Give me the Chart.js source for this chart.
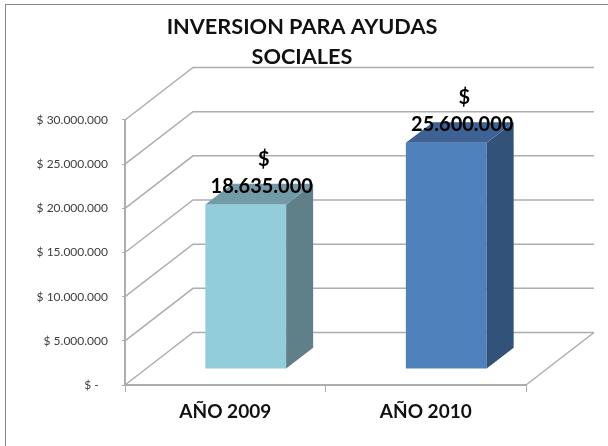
<!DOCTYPE html>
<html>
<head>
<meta charset="utf-8">
<style>
  html, body { margin: 0; padding: 0; background: #fff; overflow: hidden; }
  #wrap { position: relative; width: 608px; height: 446px; }
</style>
</head>
<body>
<div id="wrap"><canvas id="chart"></canvas></div>
<script src="https://cdn.jsdelivr.net/npm/chart.js@4"></script>
<script>
const categories = ["AÑO 2009", "AÑO 2010"];
const inversion = [18635000, 25600000];
const titleLines = ["INVERSION PARA AYUDAS", "SOCIALES"];
const yMax = 30000000;
const yStep = 5000000;

const frontColors = ["#92CDDC", "#4F81BD"];
const sideColors = ["#5F8089", "#325279"];
const topColors = ["#739BA7", "#3D6293"];
const gridColor = "#adadad";
const FONT = "Lato, Carlito, sans-serif";

// 3d look: offsets in pixels
const wallDx = 68, wallDy = 52.5;
const barDx = 20.5, barDy = 16;
const depthDx = 27, depthDy = 20.7;

function money(v) {
  return String(v).replace(/\B(?=(\d{3})+(?!\d))/g, ".");
}

function poly(ctx, pts, fill) {
  ctx.beginPath();
  ctx.moveTo(pts[0][0], pts[0][1]);
  for (let i = 1; i < pts.length; i++) ctx.lineTo(pts[i][0], pts[i][1]);
  ctx.closePath();
  ctx.fillStyle = fill;
  ctx.fill();
}

const fake3d = {
  id: "fake3d",
  beforeDraw(chart) {
    const ctx = chart.ctx;
    ctx.save();
    ctx.strokeStyle = "#868686";
    ctx.lineWidth = 1;
    ctx.strokeRect(5.5, 4.5, 800, 800);
    ctx.restore();
  },
  beforeDatasetsDraw(chart) {
    const ctx = chart.ctx;
    const area = chart.chartArea;
    const y = chart.scales.y;
    ctx.save();
    ctx.strokeStyle = gridColor;
    ctx.lineWidth = 1.5;
    y.ticks.forEach(function (t) {
      const py = y.getPixelForValue(t.value);
      ctx.beginPath();
      ctx.moveTo(area.left, py);
      ctx.lineTo(area.left + wallDx, py - wallDy);
      ctx.lineTo(area.right + wallDx, py - wallDy);
      ctx.stroke();
    });
    // floor edge on the right
    const py0 = y.getPixelForValue(0);
    ctx.beginPath();
    ctx.moveTo(area.right, py0);
    ctx.lineTo(area.right + wallDx, py0 - wallDy);
    ctx.stroke();
    ctx.restore();

    // native bars become the front faces, pushed into the floor
    ctx.save();
    ctx.translate(barDx, -barDy);
  },
  afterDatasetsDraw(chart) {
    const ctx = chart.ctx;
    ctx.restore();
    chart.getDatasetMeta(0).data.forEach(function (el, i) {
      const l = el.x - el.width / 2 + barDx;
      const r = el.x + el.width / 2 + barDx;
      const t = el.y - barDy;
      const b = el.base - barDy;
      poly(ctx, [[r, t], [r + depthDx, t - depthDy], [r + depthDx, b - depthDy], [r, b]], sideColors[i]);
      poly(ctx, [[l, t], [r, t], [r + depthDx, t - depthDy], [l + depthDx, t - depthDy]], topColors[i]);

      ctx.save();
      ctx.fillStyle = "#000";
      ctx.font = "bold 20px " + FONT;
      ctx.textAlign = "center";
      ctx.textBaseline = "middle";
      ctx.fillText("$", el.x + barDx + 18, t - 45);
      ctx.fillText(money(inversion[i]), el.x + barDx + 16, t - 18);
      ctx.restore();
    });
  }
};

new Chart(document.getElementById("chart"), {
  type: "bar",
  data: {
    labels: categories,
    datasets: [{
      data: inversion,
      backgroundColor: frontColors,
      borderWidth: 0,
      barPercentage: 0.403,
      categoryPercentage: 1
    }]
  },
  options: {
    responsive: true,
    maintainAspectRatio: false,
    animation: false,
    layout: { padding: { left: 0, right: 4, top: 0, bottom: 0 } },
    plugins: {
      legend: { display: false },
      tooltip: { enabled: false },
      title: {
        display: true,
        text: titleLines,
        color: "#111",
        font: { family: FONT, size: 21.7, weight: "bold", lineHeight: 1.382 },
        padding: { top: 12, bottom: 48 }
      }
    },
    scales: {
      x: {
        grid: { color: gridColor, drawOnChartArea: false, tickLength: 7, tickWidth: 1 },
        border: { color: gridColor, width: 2 },
        ticks: { color: "#111", padding: 8, maxRotation: 0, font: { family: FONT, size: 19, weight: "bold" } },
        afterFit(scale) { scale.height = 61; }
      },
      y: {
        min: 0,
        max: yMax,
        grid: { color: gridColor, drawOnChartArea: false, tickLength: 3 },
        border: { color: gridColor, width: 2 },
        ticks: {
          stepSize: yStep,
          color: "#404040",
          padding: 14,
          font: { family: FONT, size: 12 },
          callback(v) { return v === 0 ? "$ -   " : "$ " + money(v); }
        },
        afterFit(scale) { scale.width = 125; }
      },
      spacer: {
        position: "right",
        grid: { display: false },
        border: { display: false },
        ticks: { display: false },
        afterFit(scale) { scale.width = 78; }
      }
    }
  },
  plugins: [fake3d]
});
</script>
</body>
</html>
